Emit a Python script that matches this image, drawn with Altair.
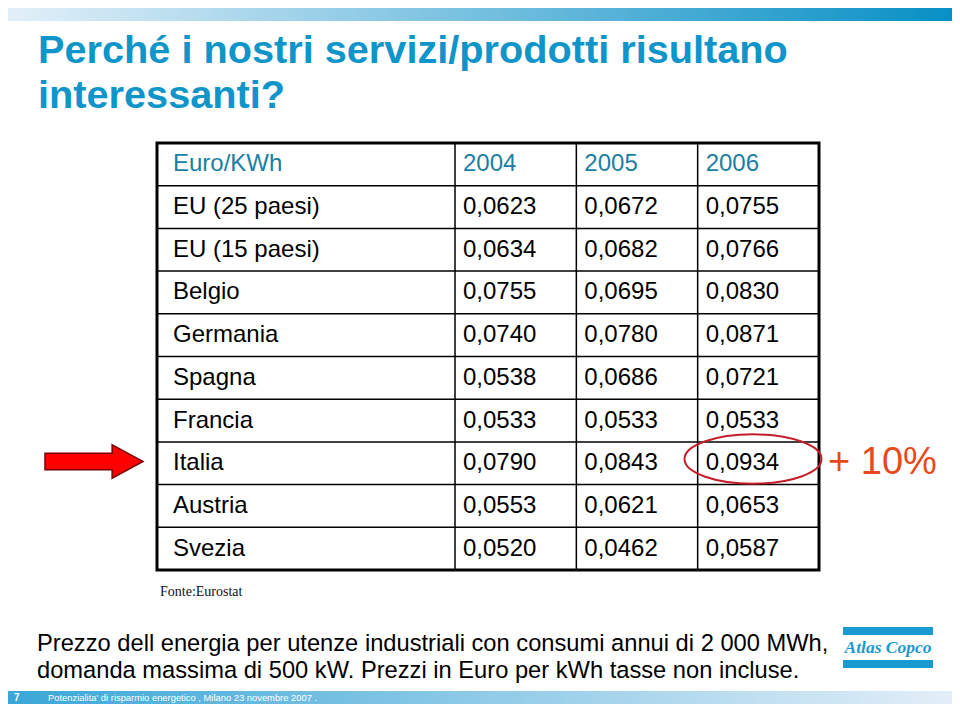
import altair as alt
import pandas as pd

# ---------------- data ----------------
title_lines = ["Perché i nostri servizi/prodotti risultano", "interessanti?"]
header_label = "Euro/KWh"
years = ["2004", "2005", "2006"]
countries = ["EU (25 paesi)", "EU (15 paesi)", "Belgio", "Germania", "Spagna",
             "Francia", "Italia", "Austria", "Svezia"]
v2004 = [0.0623, 0.0634, 0.0755, 0.0740, 0.0538, 0.0533, 0.0790, 0.0553, 0.0520]
v2005 = [0.0672, 0.0682, 0.0695, 0.0780, 0.0686, 0.0533, 0.0843, 0.0621, 0.0462]
v2006 = [0.0755, 0.0766, 0.0830, 0.0871, 0.0721, 0.0533, 0.0934, 0.0653, 0.0587]
source_note = "Fonte:Eurostat"
highlight = "+ 10%"
note_lines = ["Prezzo dell energia per utenze industriali con consumi annui di 2 000 MWh,",
              "domanda massima di 500 kW. Prezzi in Euro per kWh tasse non incluse."]
footer_page = "7"
footer_text = "Potenzialita' di risparmio energetico , Milano 23 novembre 2007 ."
logo_text = "Atlas Copco"

# ---------------- layout / style ----------------
W, H = 944, 696
TBL_L, TBL_R, TBL_T, TBL_B = 149, 811, 135, 562
COL1_R = 447
TEAL = "#1b7fa3"
BLUE = "#0f95c9"
FONT = "Liberation Sans"
FS = 24

rows = [header_label] + countries
values = {"2004": v2004, "2005": v2005, "2006": v2006}

cells = []
for y in years:
    cells.append({"row": header_label, "col": y, "txt": y, "kind": "header"})
for i, c in enumerate(countries):
    for y in years:
        cells.append({"row": c, "col": y, "txt": f"{values[y][i]:.4f}".replace(".", ","), "kind": "body"})
cells_df = pd.DataFrame(cells)
labels_df = pd.DataFrame({"row": rows, "txt": rows,
                          "kind": ["header"] + ["body"] * len(countries)})
hlines_df = pd.DataFrame({"row": countries})
vlines_df = pd.DataFrame({"col": years})
one = pd.DataFrame({"k": [0]})

row_scale = alt.Scale(domain=rows, range=[TBL_T, TBL_B], paddingInner=0, paddingOuter=0)
col_scale = alt.Scale(domain=years, range=[COL1_R, TBL_R], paddingInner=0, paddingOuter=0)
kind_color = alt.Color("kind:N", scale=alt.Scale(domain=["header", "body"], range=[TEAL, "#000000"]), legend=None)


def grad(c0, c1):
    return alt.Gradient(gradient="linear",
                        stops=[alt.GradientStop(color=c0, offset=0), alt.GradientStop(color=c1, offset=1)],
                        x1=0, x2=1, y1=0, y2=0)


top_bar = alt.Chart(one).mark_rect(color=grad("#e2eff9", "#0890c5")).encode(
    x=alt.value(0), x2=alt.value(W), y=alt.value(0), y2=alt.value(13))
foot_bar = alt.Chart(one).mark_rect(color=grad("#3aa7d7", "#e3eef8")).encode(
    x=alt.value(0), x2=alt.value(W), y=alt.value(683), y2=alt.value(H))
foot_num = alt.Chart(one).mark_text(align="left", baseline="middle", font="Liberation Sans",
                                    fontSize=10, fontWeight="bold", color="white").encode(
    x=alt.value(6), y=alt.value(690), text=alt.value(footer_page))
foot_txt = alt.Chart(one).mark_text(align="left", baseline="middle", font="Liberation Sans",
                                    fontSize=9.4, color="white").encode(
    x=alt.value(40), y=alt.value(690), text=alt.value(footer_text))

title1 = alt.Chart(one).mark_text(align="left", baseline="alphabetic", font="Liberation Sans",
                                  fontSize=39.7, fontWeight="bold", color=BLUE).encode(
    x=alt.value(30), y=alt.value(55), text=alt.value(title_lines[0]))
title2 = alt.Chart(one).mark_text(align="left", baseline="alphabetic", font="Liberation Sans",
                                  fontSize=39.7, fontWeight="bold", color=BLUE).encode(
    x=alt.value(30), y=alt.value(100), text=alt.value(title_lines[1]))

border = alt.Chart(one).mark_rect(fill="white", stroke="black", strokeWidth=3).encode(
    x=alt.value(TBL_L), x2=alt.value(TBL_R), y=alt.value(TBL_T), y2=alt.value(TBL_B))
hlines = alt.Chart(hlines_df).mark_rule(color="black", strokeWidth=1.5).encode(
    y=alt.Y("row:N", scale=row_scale, axis=None, bandPosition=0),
    x=alt.value(TBL_L), x2=alt.value(TBL_R))
vlines = alt.Chart(vlines_df).mark_rule(color="black", strokeWidth=1.5).encode(
    x=alt.X("col:N", scale=col_scale, axis=None, bandPosition=0),
    y=alt.value(TBL_T), y2=alt.value(TBL_B))
label_txt = alt.Chart(labels_df).mark_text(align="left", baseline="middle", font=FONT, fontSize=FS).encode(
    y=alt.Y("row:N", scale=row_scale, axis=None),
    x=alt.value(165), text="txt:N", color=kind_color)
cell_txt = alt.Chart(cells_df).mark_text(align="left", baseline="middle", font=FONT, fontSize=FS, dx=8).encode(
    y=alt.Y("row:N", scale=row_scale, axis=None),
    x=alt.X("col:N", scale=col_scale, axis=None, bandPosition=0),
    text="txt:N", color=kind_color)

src = alt.Chart(one).mark_text(align="left", baseline="alphabetic", font="Liberation Serif",
                               fontSize=14, color="#111").encode(
    x=alt.value(152), y=alt.value(588), text=alt.value(source_note))

arrow = alt.Chart(one).mark_point(
    shape="M -1 -0.17 L 0.37 -0.17 L 0.37 -0.34 L 1 0 L 0.37 0.34 L 0.37 0.17 L -1 0.17 Z",
    size=98 ** 2, filled=True, fill="#ff0000", stroke="#7a0000", strokeWidth=1.5, opacity=1).encode(
    x=alt.value(86), y=alt.value(453.5))
ellipse = alt.Chart(one).mark_point(
    shape="M -1 0 A 1 0.36 0 1 1 1 0 A 1 0.36 0 1 1 -1 0 Z",
    size=137 ** 2, filled=False, stroke="#c41e2a", strokeWidth=2, opacity=1).encode(
    x=alt.value(745), y=alt.value(451))
plus = alt.Chart(one).mark_text(align="left", baseline="alphabetic", font="Liberation Sans",
                                fontSize=38, color="#e8491c").encode(
    x=alt.value(820), y=alt.value(466), text=alt.value(highlight))

note1 = alt.Chart(one).mark_text(align="left", baseline="alphabetic", font="Liberation Sans",
                                 fontSize=23.7, color="black").encode(
    x=alt.value(29), y=alt.value(643), text=alt.value(note_lines[0]))
note2 = alt.Chart(one).mark_text(align="left", baseline="alphabetic", font="Liberation Sans",
                                 fontSize=23.7, color="black").encode(
    x=alt.value(29), y=alt.value(670), text=alt.value(note_lines[1]))

logo_bar1 = alt.Chart(one).mark_rect(color="#1a9ad0").encode(
    x=alt.value(835), x2=alt.value(925), y=alt.value(619), y2=alt.value(627))
logo_bar2 = alt.Chart(one).mark_rect(color="#1a9ad0").encode(
    x=alt.value(835), x2=alt.value(925), y=alt.value(652), y2=alt.value(660))
logo = alt.Chart(one).mark_text(align="center", baseline="middle", font="Liberation Serif",
                                fontSize=17.5, fontWeight="bold", fontStyle="italic", color="#1a9ad0").encode(
    x=alt.value(880), y=alt.value(640), text=alt.value(logo_text))

chart = alt.layer(
    top_bar, foot_bar, foot_num, foot_txt, title1, title2,
    border, hlines, vlines, label_txt, cell_txt, src,
    arrow, ellipse, plus, note1, note2, logo_bar1, logo_bar2, logo
).properties(
    width=W, height=H, autosize=alt.AutoSizeParams(type="none"), padding=0, background="white"
).configure_view(stroke=None)

chart.save("out.html", embed_options={"renderer": "svg", "actions": False})
